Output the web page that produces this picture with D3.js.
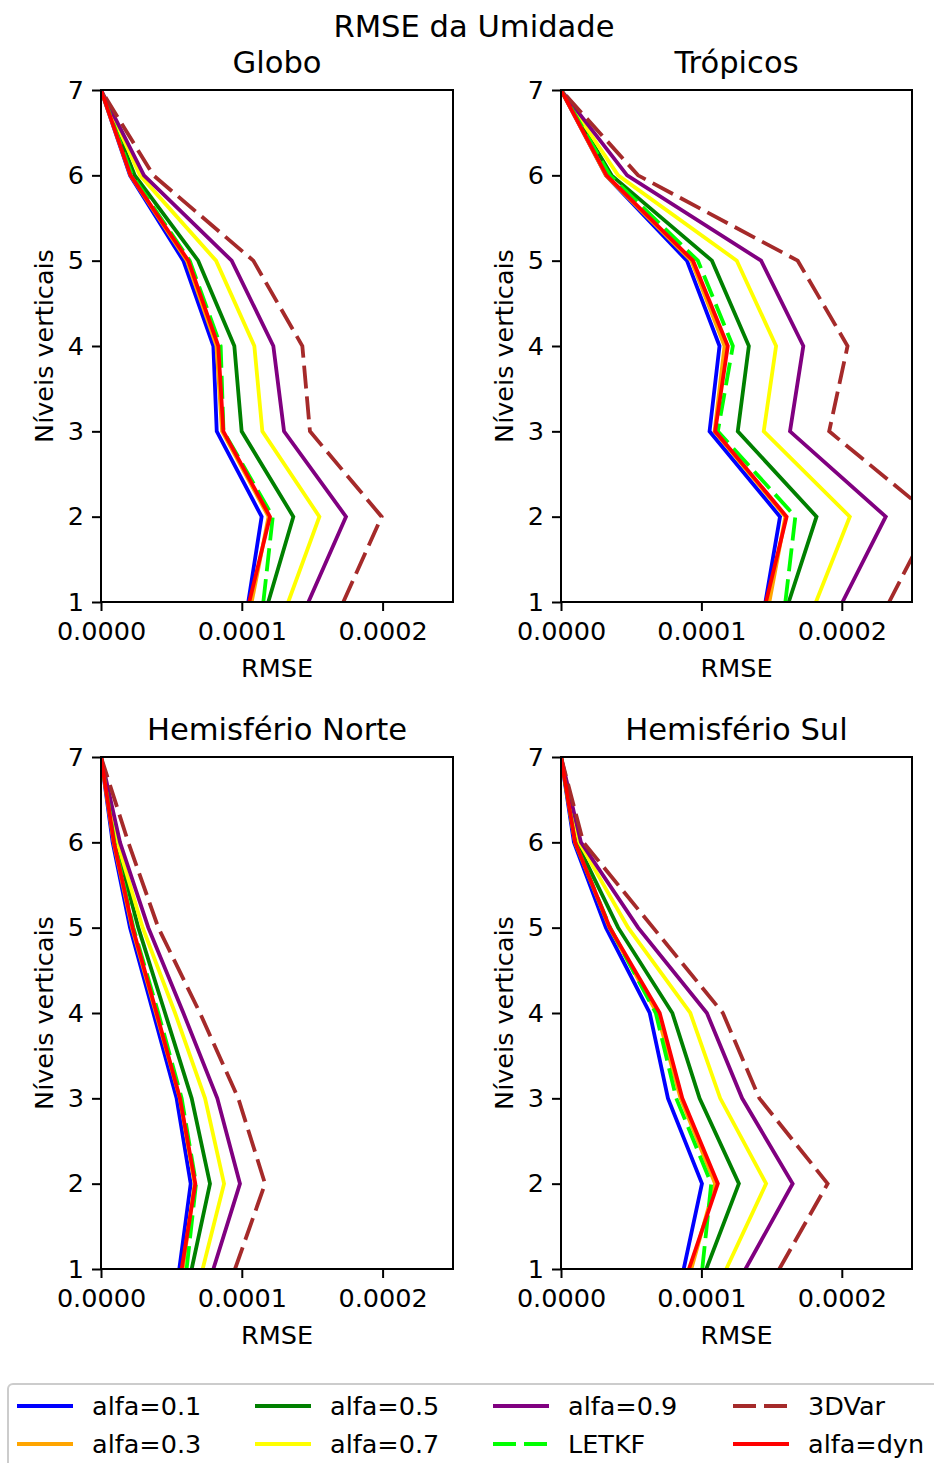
<!DOCTYPE html>
<html>
<head>
<meta charset="utf-8">
<script src="https://cdn.jsdelivr.net/npm/d3@7"></script>
<style>
  html, body { margin: 0; padding: 0; background: #fff; }
  svg { display: block; font-family: "DejaVu Sans", sans-serif; }
</style>
</head>
<body>
<svg id="chart" width="934" height="1463"></svg>
<script>
// ---------------- DATA ----------------
const levels = [1, 2, 3, 4, 5, 6, 7];
const seriesNames = ["alfa=0.1", "alfa=0.3", "alfa=0.5", "alfa=0.7", "alfa=0.9", "LETKF", "3DVar", "alfa=dyn"];
const panelTitles = ["Globo", "Trópicos", "Hemisfério Norte", "Hemisfério Sul"];
const xTickValues = [0, 0.0001, 0.0002];
const yTickValues = [1, 2, 3, 4, 5, 6, 7];

// values per series (order of seriesNames), for levels 1..7
const globo = [
  [1.046e-4, 1.141e-4, 0.822e-4, 0.798e-4, 0.585e-4, 0.206e-4, 0],
  [1.070e-4, 1.190e-4, 0.860e-4, 0.820e-4, 0.610e-4, 0.210e-4, 0],
  [1.188e-4, 1.366e-4, 0.999e-4, 0.947e-4, 0.690e-4, 0.240e-4, 0],
  [1.330e-4, 1.551e-4, 1.146e-4, 1.089e-4, 0.817e-4, 0.277e-4, 0],
  [1.473e-4, 1.740e-4, 1.300e-4, 1.224e-4, 0.928e-4, 0.305e-4, 0],
  [1.153e-4, 1.220e-4, 0.870e-4, 0.850e-4, 0.630e-4, 0.220e-4, 0],
  [1.721e-4, 1.993e-4, 1.484e-4, 1.430e-4, 1.082e-4, 0.372e-4, 0],
  [1.053e-4, 1.200e-4, 0.869e-4, 0.833e-4, 0.620e-4, 0.210e-4, 0]
];
const tropicos = [
  [1.456e-4, 1.560e-4, 1.058e-4, 1.129e-4, 0.897e-4, 0.320e-4, 0],
  [1.484e-4, 1.598e-4, 1.094e-4, 1.165e-4, 0.928e-4, 0.320e-4, 0],
  [1.622e-4, 1.820e-4, 1.259e-4, 1.338e-4, 1.075e-4, 0.360e-4, 0],
  [1.816e-4, 2.057e-4, 1.444e-4, 1.532e-4, 1.252e-4, 0.407e-4, 0],
  [2.005e-4, 2.313e-4, 1.631e-4, 1.726e-4, 1.425e-4, 0.471e-4, 0],
  [1.598e-4, 1.669e-4, 1.117e-4, 1.224e-4, 0.975e-4, 0.348e-4, 0],
  [2.337e-4, 2.650e-4, 1.910e-4, 2.041e-4, 1.686e-4, 0.549e-4, 0],
  [1.460e-4, 1.607e-4, 1.098e-4, 1.188e-4, 0.940e-4, 0.324e-4, 0]
];
const norte = [
  [0.556e-4, 0.637e-4, 0.537e-4, 0.372e-4, 0.206e-4, 0.083e-4, 0],
  [0.580e-4, 0.665e-4, 0.560e-4, 0.390e-4, 0.220e-4, 0.090e-4, 0],
  [0.644e-4, 0.774e-4, 0.644e-4, 0.455e-4, 0.265e-4, 0.107e-4, 0],
  [0.722e-4, 0.874e-4, 0.739e-4, 0.526e-4, 0.296e-4, 0.116e-4, 0],
  [0.798e-4, 0.987e-4, 0.826e-4, 0.585e-4, 0.336e-4, 0.135e-4, 0],
  [0.608e-4, 0.675e-4, 0.573e-4, 0.407e-4, 0.230e-4, 0.095e-4, 0],
  [0.952e-4, 1.165e-4, 0.975e-4, 0.703e-4, 0.407e-4, 0.194e-4, 0],
  [0.573e-4, 0.670e-4, 0.561e-4, 0.395e-4, 0.225e-4, 0.092e-4, 0]
];
const sul = [
  [0.874e-4, 1.004e-4, 0.762e-4, 0.632e-4, 0.320e-4, 0.092e-4, 0],
  [0.928e-4, 1.098e-4, 0.852e-4, 0.684e-4, 0.345e-4, 0.100e-4, 0],
  [1.035e-4, 1.267e-4, 0.987e-4, 0.793e-4, 0.407e-4, 0.111e-4, 0],
  [1.177e-4, 1.461e-4, 1.134e-4, 0.921e-4, 0.478e-4, 0.130e-4, 0],
  [1.314e-4, 1.650e-4, 1.290e-4, 1.039e-4, 0.549e-4, 0.142e-4, 0],
  [1.006e-4, 1.070e-4, 0.821e-4, 0.675e-4, 0.350e-4, 0.100e-4, 0],
  [1.555e-4, 1.899e-4, 1.413e-4, 1.153e-4, 0.656e-4, 0.159e-4, 0],
  [0.911e-4, 1.117e-4, 0.864e-4, 0.703e-4, 0.348e-4, 0.100e-4, 0]
];
const panelData = [globo, tropicos, norte, sul];

// ---------------- STYLE ----------------
const colors = ["#0000ff", "#ffa500", "#008000", "#ffff00", "#800080", "#00ff00", "#a52a2a", "#ff0000"];
const dashed = [false, false, false, false, false, true, true, false];
const FONT = 25.5, TITLE = 30.6, LW = 3.8, DASH = "23,8";

const svg = d3.select("#chart");
const panels = [
  {x0: 101, x1: 453, y0: 90, y1: 602},
  {x0: 561, x1: 912, y0: 90, y1: 602},
  {x0: 101, x1: 453, y0: 757, y1: 1269},
  {x0: 561, x1: 912, y0: 757, y1: 1269}
];

svg.append("text")
  .attr("x", 474).attr("y", 37)
  .attr("text-anchor", "middle")
  .attr("font-size", TITLE)
  .text("RMSE da Umidade");

panels.forEach((p, i) => {
  const x = d3.scaleLinear().domain([0, 0.00025]).range([p.x0, p.x1]);
  const y = d3.scaleLinear().domain([1, 7]).range([p.y1, p.y0]);
  const g = svg.append("g");

  const clipId = "clip" + i;
  svg.append("clipPath").attr("id", clipId)
    .append("rect").attr("x", p.x0).attr("y", p.y0)
    .attr("width", p.x1 - p.x0).attr("height", p.y1 - p.y0);

  const line = d3.line().x(d => x(d[0])).y(d => y(d[1]));
  const lines = g.append("g").attr("clip-path", `url(#${clipId})`);
  panelData[i].forEach((vals, s) => {
    const pts = vals.map((v, k) => [v, levels[k]]);
    lines.append("path")
      .attr("d", line(pts))
      .attr("fill", "none")
      .attr("stroke", colors[s])
      .attr("stroke-width", LW)
      .attr("stroke-linejoin", "miter")
      .attr("stroke-dasharray", dashed[s] ? DASH : null);
  });

  // axes
  const xAxis = d3.axisBottom(x).tickValues(xTickValues).tickFormat(d3.format(".4f"))
    .tickSizeInner(9).tickSizeOuter(0).tickPadding(11);
  const yAxis = d3.axisLeft(y).tickValues(yTickValues).tickFormat(d3.format("d"))
    .tickSizeInner(9).tickSizeOuter(0).tickPadding(8);
  const gx = g.append("g").attr("transform", `translate(0,${p.y1})`).call(xAxis);
  const gy = g.append("g").attr("transform", `translate(${p.x0},0)`).call(yAxis);
  [gx, gy].forEach(a => {
    a.select(".domain").remove();
    a.selectAll("line").attr("stroke", "#000").attr("stroke-width", 2);
    a.selectAll("text").attr("font-size", FONT).attr("fill", "#000")
      .attr("font-family", "DejaVu Sans");
  });

  // frame
  g.append("rect")
    .attr("x", p.x0).attr("y", p.y0)
    .attr("width", p.x1 - p.x0).attr("height", p.y1 - p.y0)
    .attr("fill", "none").attr("stroke", "#000").attr("stroke-width", 2);

  // title
  g.append("text")
    .attr("x", (p.x0 + p.x1) / 2).attr("y", p.y0 - 17)
    .attr("text-anchor", "middle").attr("font-size", TITLE)
    .text(panelTitles[i]);

  // x label
  g.append("text")
    .attr("x", (p.x0 + p.x1) / 2).attr("y", p.y1 + 75)
    .attr("text-anchor", "middle").attr("font-size", FONT)
    .text("RMSE");

  // y label
  g.append("text")
    .attr("transform", `translate(${p.x0 - 48},${(p.y0 + p.y1) / 2}) rotate(-90)`)
    .attr("text-anchor", "middle").attr("font-size", FONT)
    .text("Níveis verticais");
});

// ---------------- LEGEND ----------------
const leg = svg.append("g");
leg.append("rect")
  .attr("x", 8).attr("y", 1384).attr("width", 940).attr("height", 100)
  .attr("rx", 5).attr("fill", "#fff").attr("stroke", "#cccccc").attr("stroke-width", 2);
const colX = [17, 255, 493, 733];
const rowY = [1406, 1444];
seriesNames.forEach((name, s) => {
  const c = Math.floor(s / 2), r = s % 2;
  const lx = colX[c], ly = rowY[r];
  leg.append("line")
    .attr("x1", lx).attr("x2", lx + 56).attr("y1", ly).attr("y2", ly)
    .attr("stroke", colors[s]).attr("stroke-width", LW)
    .attr("stroke-dasharray", dashed[s] ? DASH : null);
  leg.append("text")
    .attr("x", lx + 75).attr("y", ly).attr("dy", "0.35em")
    .attr("font-size", FONT).text(name);
});
</script>
</body>
</html>
